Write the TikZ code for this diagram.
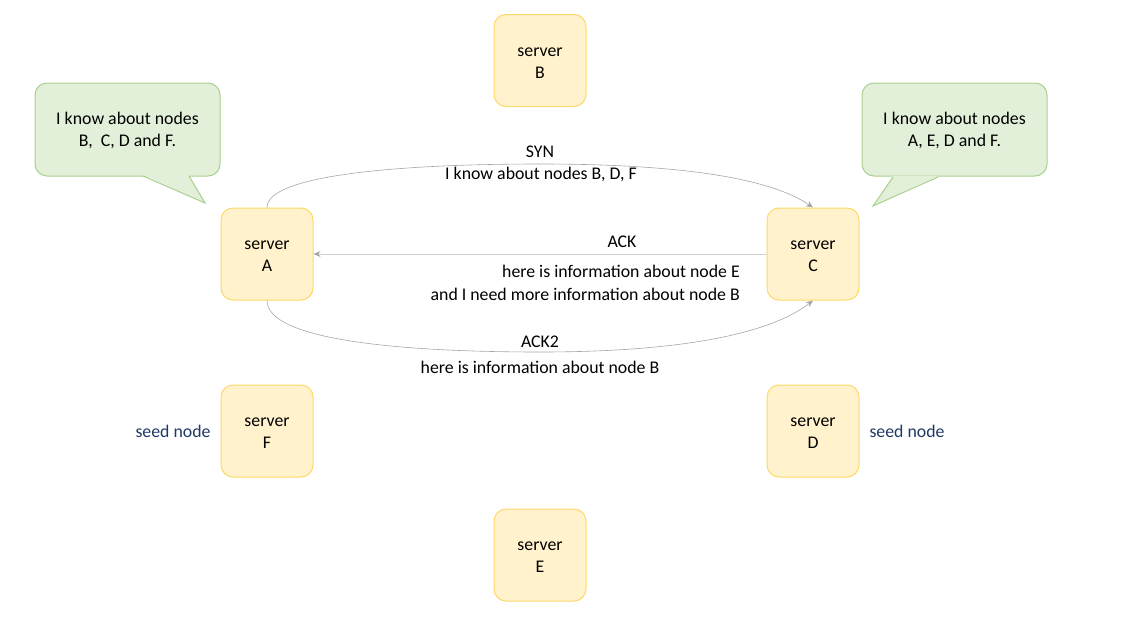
\documentclass[tikz,border=0pt]{standalone}
\usepackage{fontspec}
\setmainfont{Carlito}
\usetikzlibrary{arrows.meta}
\definecolor{srvfill}{HTML}{FFF2CC}
\definecolor{srvdraw}{HTML}{FFD966}
\definecolor{cfill}{HTML}{E2F0D9}
\definecolor{cdraw}{HTML}{A9D18E}
\definecolor{edgecol}{HTML}{A6A6A6}
\definecolor{ackcol}{HTML}{CFCFCF}
\definecolor{seedcol}{HTML}{203864}
\newcommand{\srvstrut}{\rule{0pt}{13pt}}
\newcommand{\clstrut}{\rule{0pt}{15pt}}
\begin{document}
\begin{tikzpicture}[x=1pt,y=1pt,
  txt/.style={font=\fontsize{17.8}{22}\selectfont, inner sep=0pt, align=center},
  server/.style={txt, draw=srvdraw, fill=srvfill, line width=1pt, rounded corners=12pt,
    minimum width=92pt, minimum height=92pt},
  callout/.style={txt, draw=cdraw, fill=cfill, line width=1pt, rounded corners=12pt,
    minimum width=185pt, minimum height=93pt},
  conn/.style={draw=edgecol, line width=0.6pt, -{Stealth[length=7pt,width=6pt]}},
  ackconn/.style={draw=ackcol, line width=0.9pt, -{Stealth[length=7pt,width=6pt,color=edgecol]}},
  lbl/.style={txt},
  seed/.style={txt, text=seedcol}]
\useasboundingbox (0,0) rectangle (1123,-621);

% servers
\node[server] (B) at (540,-60.5) {\srvstrut server\\B};
\node[server] (A) at (267,-254) {\srvstrut server\\A};
\node[server] (C) at (813,-254) {\srvstrut server\\C};
\node[server] (F) at (267,-431) {\srvstrut server\\F};
\node[server] (D) at (813,-431) {\srvstrut server\\D};
\node[server] (E) at (540,-555) {\srvstrut server\\E};

% callouts
\node[callout] (cl) at (127.5,-129.5) {\clstrut I know about nodes\\B,\ \ C, D and F.};
\fill[cfill] (143,-175) -- (205,-203) -- (189,-175) -- cycle;
\draw[cdraw, line width=1pt, line join=miter] (143,-176) -- (205,-203) -- (189,-176);
\node[callout] (cr) at (954.5,-129.5) {\clstrut I know about nodes\\A, E, D and F.};
\fill[cfill] (893,-176) -- (873,-206) -- (938,-176) -- cycle;
\draw[cdraw, line width=1pt, line join=miter] (893,-177) -- (873,-206) -- (938,-177);

% seed labels
\node[seed] (sf) at (173,-431) {seed node};
\node[seed] (sd) at (907,-431) {seed node};

% connectors
\coordinate (synmid) at (540,-164);
\coordinate (ack2mid) at (540,-352);
\draw[conn] (A.north) .. controls (267,-175) and (400,-164) .. (synmid)
   .. controls (680,-164) and (770,-178) .. (C.north);
\draw[ackconn] (C.west) -- (A.east);
\draw[conn] (A.south) .. controls (267,-340) and (400,-352) .. (ack2mid)
   .. controls (680,-352) and (770,-334) .. (C.south);

% edge labels
\node[lbl] (syn) at (540,-152) {SYN};
\node[lbl] (synt) at (541,-174) {I know about nodes B, D, F};
\node[lbl] (ack) at (622,-242) {ACK};
\node[lbl, anchor=east] (ackt1) at (740,-271) {here is information about node E};
\node[lbl, anchor=east] (ackt2) at (740,-294) {and I need more information about node B};
\node[lbl] (ack2) at (540,-342) {ACK2};
\node[lbl] (ack2t) at (540,-367) {here is information about node B};
\end{tikzpicture}
\end{document}
